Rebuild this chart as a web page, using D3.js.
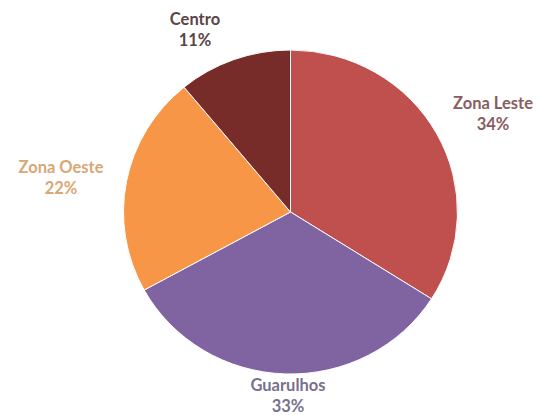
<!DOCTYPE html>
<html>
<head>
<meta charset="utf-8">
<script src="https://cdn.jsdelivr.net/npm/d3@7"></script>
<style>
  html, body { margin: 0; padding: 0; background: #fff; }
  svg { display: block; }
</style>
</head>
<body>
<svg id="chart" width="539" height="415"></svg>
<script>
// Regional share data, clockwise from 12 o'clock
const regions = ["Zona Leste", "Guarulhos", "Zona Oeste", "Centro"];
const shares = [34, 33, 22, 11];
const sliceColors = ["#C0504D", "#8064A2", "#F79646", "#772C2A"];
const labelColors = ["#8a5c62", "#78718c", "#d8a874", "#5a4446"];

const W = 539, H = 415;
const cx = 290.5, cy = 212, rx = 167, ry = 162;

const svg = d3.select("#chart");

const data = regions.map((name, i) => ({ name, value: shares[i] }));
const pie = d3.pie().value(d => d.value).sort(null);
const arcs = pie(data);
const arc = d3.arc().innerRadius(0).outerRadius(rx);

const g = svg.append("g")
  .attr("transform", `translate(${cx},${cy}) scale(1,${ry / rx})`);

g.selectAll("path.slice")
  .data(arcs)
  .join("path")
  .attr("class", "slice")
  .attr("d", arc)
  .attr("fill", (d, i) => sliceColors[i])
  .attr("stroke", "#fff")
  .attr("stroke-width", 1);

// Label anchor positions (center x, baseline of first line)
const labelPos = [
  { x: 493, y: 109 },
  { x: 288, y: 391 },
  { x: 61, y: 173 },
  { x: 195, y: 25 }
];
const lineGap = 21;
const fontSize = 16.5;

const labels = svg.selectAll("g.lbl")
  .data(arcs)
  .join("g")
  .attr("class", "lbl")
  .attr("transform", (d, i) => `translate(${labelPos[i].x},${labelPos[i].y})`);

labels.append("text")
  .attr("text-anchor", "middle")
  .attr("font-family", "Lato, 'Open Sans', sans-serif")
  .attr("font-weight", "bold")
  .attr("font-size", fontSize)
  .attr("fill", (d, i) => labelColors[i])
  .text(d => d.data.name);

labels.append("text")
  .attr("text-anchor", "middle")
  .attr("y", lineGap)
  .attr("font-family", "Lato, 'Open Sans', sans-serif")
  .attr("font-weight", "bold")
  .attr("font-size", fontSize)
  .attr("fill", (d, i) => labelColors[i])
  .text(d => d.data.value + "%");
</script>
</body>
</html>
